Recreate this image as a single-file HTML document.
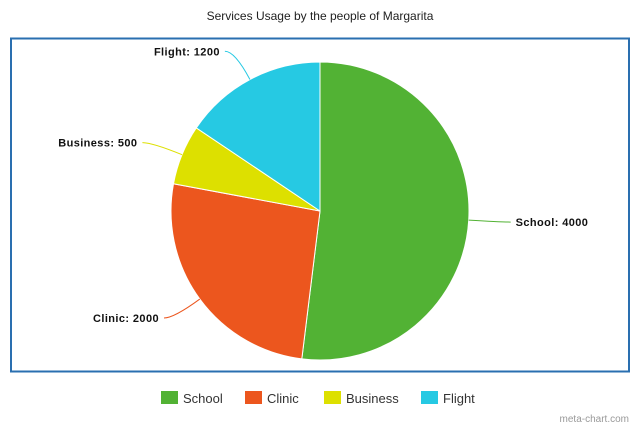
<!DOCTYPE html>
<html><head><meta charset="utf-8"><style>
body{margin:0;background:#fff;width:640px;height:427px;overflow:hidden;font-family:"Liberation Sans",sans-serif}
</style></head><body>
<svg width="640" height="427" xmlns="http://www.w3.org/2000/svg">
<text x="320" y="20" text-anchor="middle" font-size="12" fill="#222">Services Usage by the people of Margarita</text>
<rect x="11" y="38.5" width="618" height="333" fill="none" stroke="#2a6fb0" stroke-width="2"/>
<g id="slices"></g><g id="labels"></g><g id="legend"></g>
<text x="629" y="422" text-anchor="end" font-size="10" fill="#999">meta-chart.com</text>
</svg>
<script>
const categories=["School","Clinic","Business","Flight"];
const values=[4000,2000,500,1200];
const colors=["#52b234","#ec561e","#dde000","#26c9e3"];
const NS="http://www.w3.org/2000/svg";
const cx=320,cy=211,r=149;
const total=values.reduce((a,b)=>a+b,0);
const sg=document.getElementById('slices'),lg=document.getElementById('labels'),leg=document.getElementById('legend');
function pt(a,rad){return [cx+rad*Math.sin(a),cy-rad*Math.cos(a)];}
let start=0;
values.forEach((v,i)=>{
 const ang=v/total*2*Math.PI,end=start+ang;
 const p0=pt(start,r),p1=pt(end,r);
 const path=document.createElementNS(NS,'path');
 path.setAttribute('d',`M${cx},${cy}L${p0[0]},${p0[1]}A${r},${r} 0 ${ang>Math.PI?1:0} 1 ${p1[0]},${p1[1]}Z`);
 path.setAttribute('fill',colors[i]);path.setAttribute('stroke','#fff');path.setAttribute('stroke-width','1');
 
 
 sg.appendChild(path);
 const mid=start+ang/2,s=Math.sin(mid)>=0?1:-1;
 const a=pt(mid,r),b=pt(mid,r+32);
 const ex=b[0]+s*10,ey=b[1];
 const line=document.createElementNS(NS,'path');
 line.setAttribute('d',`M${a[0]},${a[1]}Q${b[0]},${b[1]} ${ex},${ey}`);
 line.setAttribute('fill','none');line.setAttribute('stroke',colors[i]);line.setAttribute('stroke-width','1');
 
 
 lg.appendChild(line);
 const t=document.createElementNS(NS,'text');
 t.setAttribute('x',ex+s*5);t.setAttribute('y',ey+4);
 t.setAttribute('text-anchor',s>0?'start':'end');
 t.setAttribute('font-size','11');t.setAttribute('font-weight','bold');t.setAttribute('fill','#111');
 t.setAttribute('letter-spacing','0.4');
 t.textContent=categories[i]+': '+values[i];
 
 
 lg.appendChild(t);
 start=end;
});
const legX=[161,245,324,421];
categories.forEach((c,i)=>{
 const g=document.createElementNS(NS,'g');
 
 
 const rc=document.createElementNS(NS,'rect');
 rc.setAttribute('x',legX[i]);rc.setAttribute('y',391);rc.setAttribute('width',17);rc.setAttribute('height',13);rc.setAttribute('fill',colors[i]);
 const t=document.createElementNS(NS,'text');
 t.setAttribute('x',legX[i]+22);t.setAttribute('y',403);t.setAttribute('font-size','13');t.setAttribute('fill','#333');
 t.textContent=c;
 g.appendChild(rc);g.appendChild(t);leg.appendChild(g);
});
</script>
</body></html>
